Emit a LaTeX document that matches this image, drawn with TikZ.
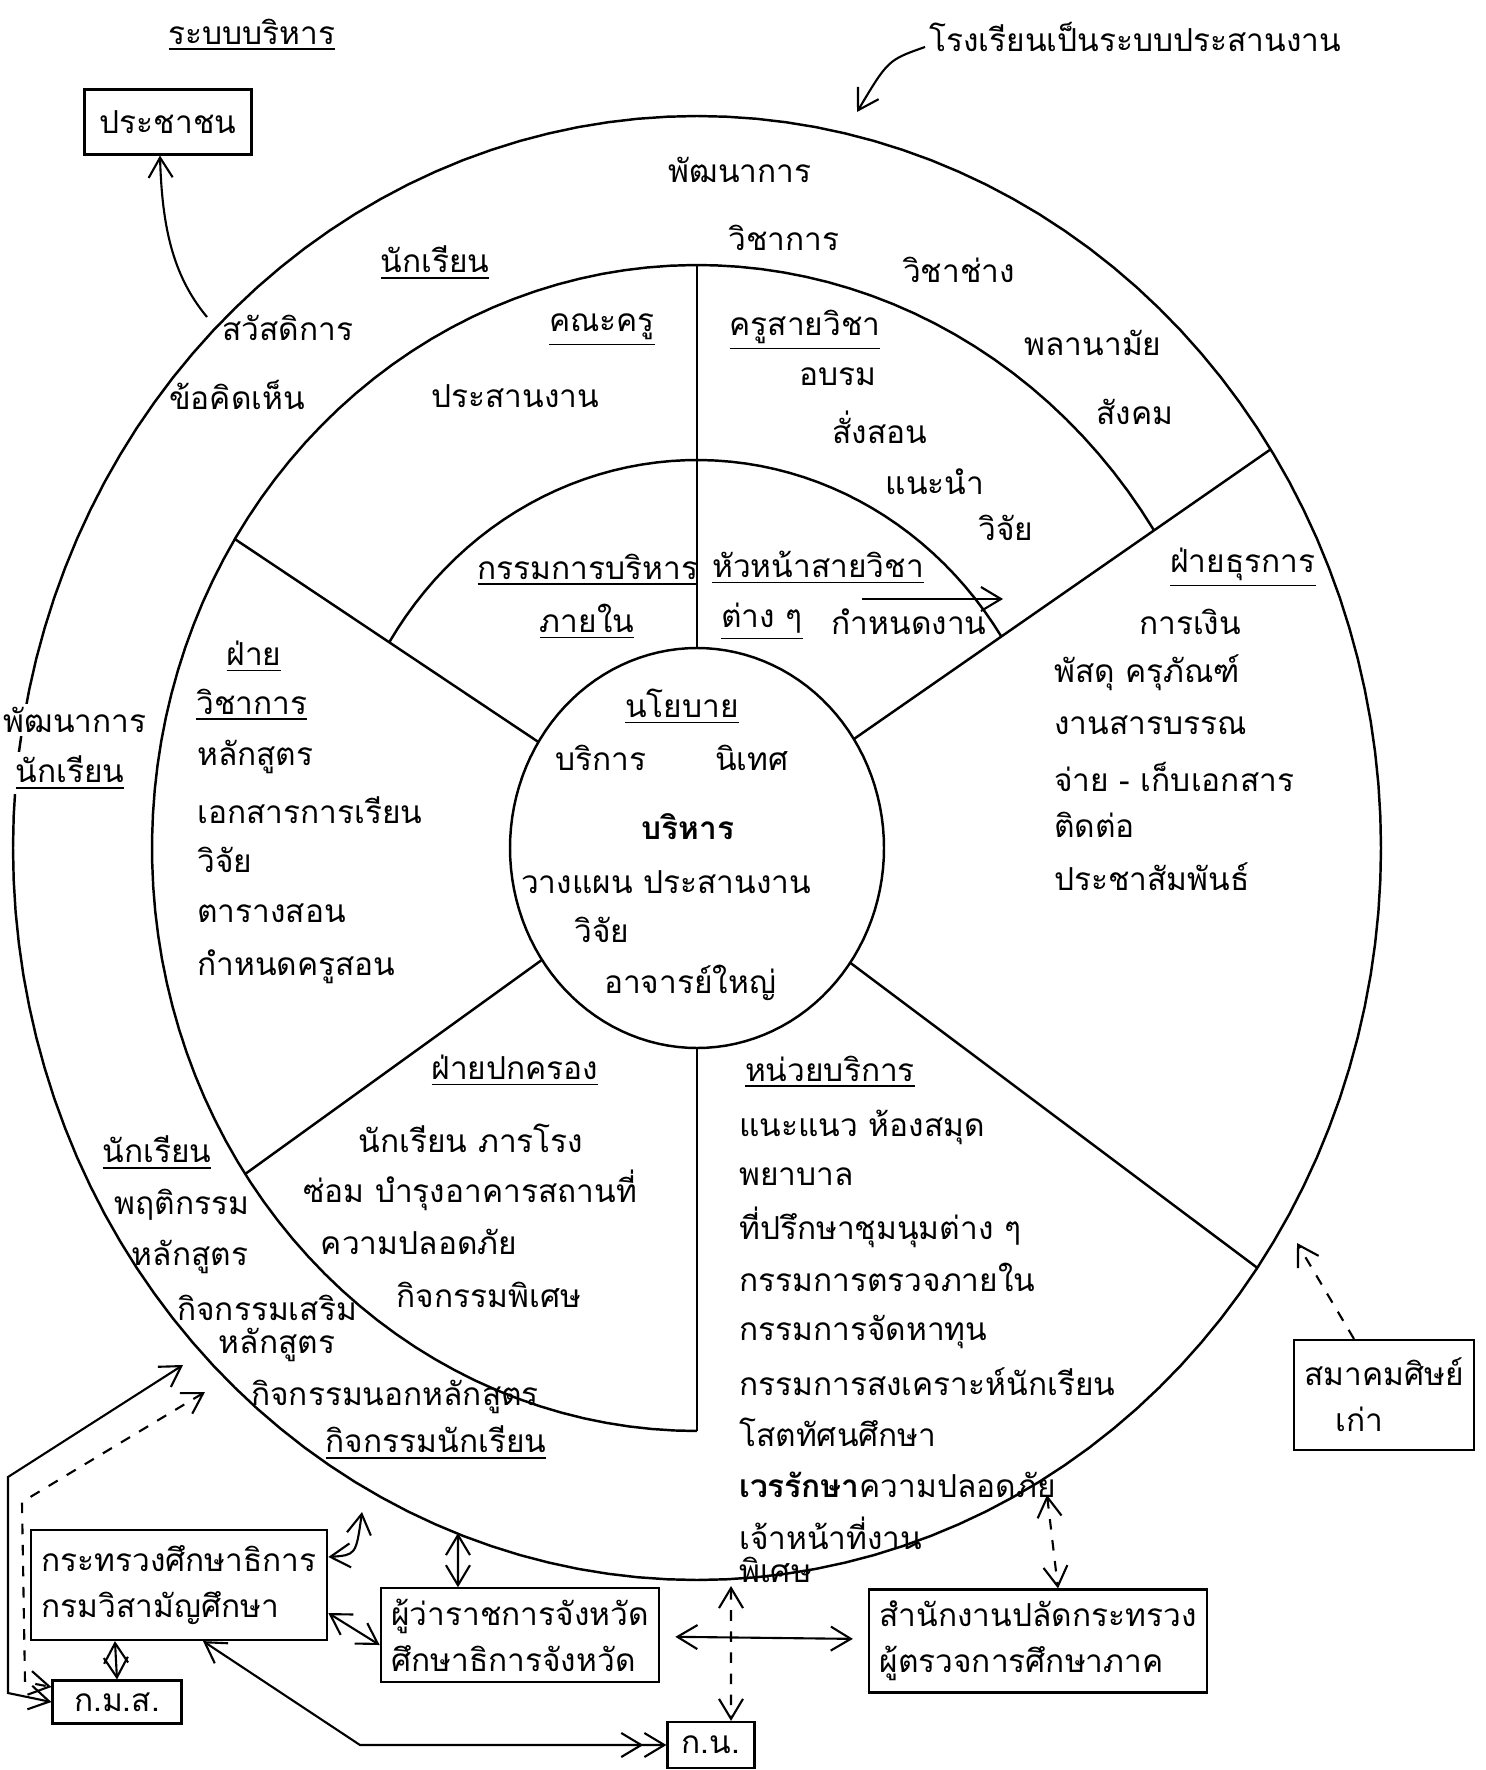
\documentclass[tikz,border=0pt]{standalone}
\usepackage{fontspec}
\newfontfamily\thaifont[Script=Thai]{Loma}
\usetikzlibrary{arrows.meta}

\begin{document}
\begin{tikzpicture}[x=0.01cm, y=-0.01cm,
    every node/.style={font=\thaifont\fontsize{9}{13}\selectfont, inner sep=1pt},
    item/.style={anchor=west},
    box/.style={draw, line width=0.6pt, inner sep=3pt, align=left},
    ring/.style={line width=0.7pt},
    link/.style={line width=0.6pt, <->, >={Straight Barb[length=2mm, width=2.4mm]}},
    dlink/.style={link, dash pattern=on 3pt off 3pt},
    pointer/.style={link, ->}]
  \useasboundingbox (0,0) rectangle (1486,1770);

  % rings and dividers
  \begin{scope}[shift={(697,848)}]
    \draw[ring] plot[domain=0:360, samples=145] ({684*cos(\x)},{732*sin(\x)}) -- cycle;
    \draw[ring] plot[domain=90:327, samples=100] ({545*cos(\x)},{583*sin(\x)});
    \draw[ring] plot[domain=212:327, samples=50] ({363*cos(\x)},{388*sin(\x)});
    \draw[ring] plot[domain=0:360, samples=121] ({187*cos(\x)},{200*sin(\x)}) -- cycle;
    \draw[ring] (270:187 and 200) -- (270:545 and 583);
    \draw[ring] (90:187 and 200) -- (90:545 and 583);
    \draw[ring] (212:187 and 200) -- (212:545 and 583);
    \draw[ring] (146:187 and 200) -- (146:545 and 583);
    \draw[ring] (-33:187 and 200) -- (-33:684 and 732);
    \draw[ring] (35:187 and 200) -- (35:684 and 732);
  \end{scope}

  % heading
  \node (title) at (252,35) {\underline{ระบบบริหาร}};
  \node[box, align=center, minimum width=1.67cm, minimum height=0.65cm] (pop) at (168,122) {ประชาชน};
  \node[item] (school) at (925,37) {โรงเรียนเป็นระบบประสานงาน};

  % outer ring
  \node (dev) at (740,170) {พัฒนาการ};
  \node (acad) at (784,238) {วิชาการ};
  \node (voc) at (959,270) {วิชาช่าง};
  \node (health) at (1093,343) {พลานามัย};
  \node (social) at (1135,412) {สังคม};
  \node (stud) at (435,263) {\underline{นักเรียน}};
  \node (welfare) at (288,328) {สวัสดิการ};
  \node (opinion) at (237,395) {ข้อคิดเห็น};
  \node[fill=white] (devstud) at (75,720) {พัฒนาการ};
  \node[fill=white] (devstud2) at (70,773) {\underline{นักเรียน}};
  \node (stud2) at (157,1153) {\underline{นักเรียน}};
  \node (behav) at (182,1205) {พฤติกรรม};
  \node (curr2) at (190,1257) {หลักสูตร};
  \node[item] (extra) at (173,1308) {กิจกรรมเสริม};
  \node (extra2) at (277,1345) {หลักสูตร};
  \node[item] (outside) at (247,1397) {กิจกรรมนอกหลักสูตร};
  \node (activities) at (436,1443) {\underline{กิจกรรมนักเรียน}};

  % teachers ring
  \node (faculty) at (602,330) {\underline{คณะครู}};
  \node (coord) at (515,396) {ประสานงาน};
  \node (teachers) at (805,330) {\underline{ครูสายวิชา}};
  \node (train) at (838,377) {อบรม};
  \node (teach) at (880,427) {สั่งสอน};
  \node (guide) at (935,482) {แนะนำ};
  \node (research) at (1006,528) {วิจัย};

  % inner band
  \node (board) at (588,570) {\underline{กรรมการบริหาร}};
  \node (internal) at (587,622) {\underline{ภายใน}};
  \node (heads) at (818,568) {\underline{หัวหน้าสายวิชา}};
  \node (various) at (762,622) {\underline{ต่าง ๆ}};
  \node (assign) at (909,622) {กำหนดงาน};
  \coordinate (as1) at (862,599);
  \coordinate (as2) at (1003,599);
  \draw[pointer] (as1) -- (as2);

  % core
  \node (policy) at (682,707) {\underline{นโยบาย}};
  \node (service) at (601,758) {บริการ};
  \node (supervise) at (752,758) {นิเทศ};
  \node (admin) at (688,827) {\textbf{บริหาร}};
  \node (plan) at (666,882) {วางแผน ประสานงาน};
  \node (coreres) at (602,930) {วิจัย};
  \node (principal) at (690,983) {อาจารย์ใหญ่};

  % academic division
  \node (acdiv) at (254,657) {\underline{ฝ่าย}};
  \node[item] (acdiv2) at (192,705) {\underline{วิชาการ}};
  \node[item] (curr) at (193,757) {หลักสูตร};
  \node[item] (docs) at (193,810) {เอกสารการเรียน};
  \node[item] (acres) at (193,860) {วิจัย};
  \node[item] (timetable) at (193,913) {ตารางสอน};
  \node[item] (staffing) at (193,967) {กำหนดครูสอน};

  % discipline division
  \node (govdiv) at (515,1071) {\underline{ฝ่ายปกครอง}};
  \node (janitor) at (471,1138) {นักเรียน ภารโรง};
  \node (repair) at (470,1190) {ซ่อม บำรุงอาคารสถานที่};
  \node (safety) at (419,1242) {ความปลอดภัย};
  \node (special) at (489,1295) {กิจกรรมพิเศษ};

  % service unit
  \node (svc) at (830,1072) {\underline{หน่วยบริการ}};
  \node[item] (guidance) at (735,1127) {แนะแนว ห้องสมุด};
  \node[item] (nurse) at (735,1177) {พยาบาล};
  \node[item] (clubs) at (735,1227) {ที่ปรึกษาชุมนุมต่าง ๆ};
  \node[item] (audit) at (735,1277) {กรรมการตรวจภายใน};
  \node[item] (fund) at (735,1332) {กรรมการจัดหาทุน};
  \node[item] (aid) at (735,1382) {กรรมการสงเคราะห์นักเรียน};
  \node[item] (av) at (735,1432) {โสตทัศนศึกษา};
  \node[item] (guard) at (735,1485) {\textbf{เวรรักษา}ความปลอดภัย};
  \node[item] (staff) at (735,1533) {เจ้าหน้าที่งาน};
  \node[item] (staff2) at (735,1570) {พิเศษ};

  % business division
  \node (findiv) at (1243,568) {\underline{ฝ่ายธุรการ}};
  \node (finance) at (1190,622) {การเงิน};
  \node[item] (supply) at (1050,673) {พัสดุ ครุภัณฑ์};
  \node[item] (records) at (1050,725) {งานสารบรรณ};
  \node[item] (docsio) at (1050,777) {จ่าย - เก็บเอกสาร};
  \node[item] (contact) at (1050,825) {ติดต่อ};
  \node[item] (pr) at (1050,877) {ประชาสัมพันธ์};

  % outside bodies
  \node[box, minimum width=2.82cm, minimum height=1.1cm] (ministry) at (179,1585) {กระทรวงศึกษาธิการ\\กรมวิสามัญศึกษา};
  \node[box, align=center, minimum width=1.29cm, minimum height=0.43cm] (kms) at (117,1702) {ก.ม.ส.};
  \node[box, minimum width=2.6cm, minimum height=0.93cm] (governor) at (520,1635) {ผู้ว่าราชการจังหวัด\\ศึกษาธิการจังหวัด};
  \node[box, minimum width=3.27cm, minimum height=1.03cm] (office) at (1038,1641) {สำนักงานปลัดกระทรวง\\ผู้ตรวจการศึกษาภาค};
  \node[box, align=center, minimum width=0.87cm, minimum height=0.46cm] (kn) at (711,1745) {ก.น.};
  \node[box, minimum width=1.75cm, minimum height=1.1cm] (alumni) at (1384,1395) {สมาคมศิษย์\\\quad เก่า};

  % connectors
  \coordinate (wel) at (207,317);
  \draw[pointer] (wel) .. controls (172,275) and (162,225) .. ([xshift=-0.08cm]pop.south);
  \coordinate (rim) at (857,112);
  \draw[pointer] ([yshift=-0.1cm]school.west) .. controls (888,60) .. (rim);
  \coordinate (c1) at (1297,1243);
  \draw[dlink, ->] ([xshift=-0.3cm]alumni.north) -- (c1);
  \coordinate (c2) at (1047,1495);
  \draw[dlink] (c2) -- ([xshift=0.2cm]office.north);
  \coordinate (c3) at (731,1586);
  \draw[dlink] (c3) -- ([xshift=0.2cm]kn.north);
  \draw[link, shorten >=1.5mm, shorten <=1.5mm] (governor) -- (office);
  \coordinate (c4) at (458,1533);
  \draw[link] ([xshift=-0.62cm]governor.north) -- (c4);
  \coordinate (c5) at (362,1512);
  \draw[link] ([yshift=0.28cm]ministry.east) .. controls (356,1555) .. (c5);
  \draw[link] ([yshift=-0.28cm]ministry.east) -- ([yshift=-0.1cm]governor.west);
  \draw[link] ([xshift=-0.64cm]ministry.south) -- (kms.north);
  \coordinate (c6) at (360,1745);
  \draw[link, <->>] ([xshift=0.24cm]ministry.south) -- (c6) -- (kn.west);
  \coordinate (c7) at (183,1365);
  \coordinate (c8) at (8,1477);
  \coordinate (c9) at (8,1693);
  \draw[link] (c7) -- (c8) -- (c9) -- (kms.west);
  \coordinate (c10) at (205,1392);
  \coordinate (c11) at (22,1502);
  \coordinate (c12) at (25,1682);
  \draw[dlink] (c10) -- (c11) -- (c12) -- ([yshift=0.15cm]kms.west);
\end{tikzpicture}
\end{document}
